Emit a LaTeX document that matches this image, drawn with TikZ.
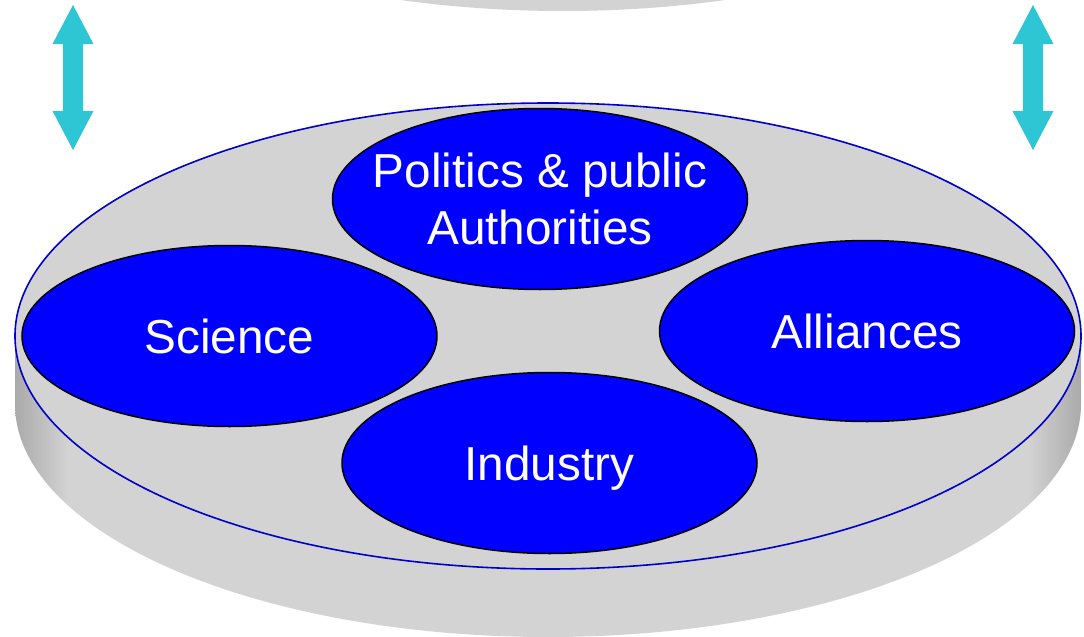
\documentclass[tikz,border=0pt]{standalone}
\usepackage{fontspec}
\setmainfont{Liberation Sans}
\usetikzlibrary{shapes.geometric}
\definecolor{diskgray}{RGB}{211,211,211}
\definecolor{rimgray}{RGB}{170,170,170}
\definecolor{rimblue}{RGB}{0,0,200}
\definecolor{arrowcyan}{RGB}{46,197,213}
\pgfdeclarehorizontalshading{sidegray}{100bp}{color(0bp)=(rimgray); color(25bp)=(rimgray); color(27.5bp)=(diskgray); color(72.5bp)=(diskgray); color(75bp)=(rimgray); color(100bp)=(rimgray)}
\begin{document}
\begin{tikzpicture}[x=1pt,y=-1pt,
    actor/.style={ellipse,draw=black,line width=1.5pt,fill=blue,
      minimum width=415pt,minimum height=181pt,inner sep=0pt},
    actortext/.style={text=white,align=center,text depth=0pt,inner sep=0pt,
      font=\fontsize{47.7}{57}\selectfont}]
    \useasboundingbox (0,0) rectangle (1084,637);
    \begin{scope}
        \clip (0,0) rectangle (1084,637);
        \fill[diskgray] (563,-222) ellipse [x radius=533,y radius=233];
    \end{scope}
    \foreach \ax in {73,1033}
        \fill[arrowcyan] (\ax,5) -- ++(20.5,39) -- ++(-10.5,0) -- ++(0,67) -- ++(10.5,0)
            -- ++(-20.5,39) -- ++(-20.5,-39) -- ++(10.5,0) -- ++(0,-67) -- ++(-10.5,0) -- cycle;
    \shade[shading=sidegray] (15,336) -- (15,404)
        arc [start angle=180,end angle=0,x radius=533,y radius=233] -- (1081,336) -- cycle;
    \filldraw[fill=diskgray,draw=rimblue,line width=1.6pt] (548,336) ellipse [x radius=533,y radius=233];
    \node[actor,label={[actortext]center:Politics \& public\\Authorities}] (politics) at (540,199) {};
    \node[actor,label={[actortext]center:Science}] (science) at (229.5,336) {};
    \node[actor,label={[actortext]center:Alliances}] (alliances) at (867,331) {};
    \node[actor,label={[actortext]center:Industry}] (industry) at (549.5,463) {};
\end{tikzpicture}
\end{document}
